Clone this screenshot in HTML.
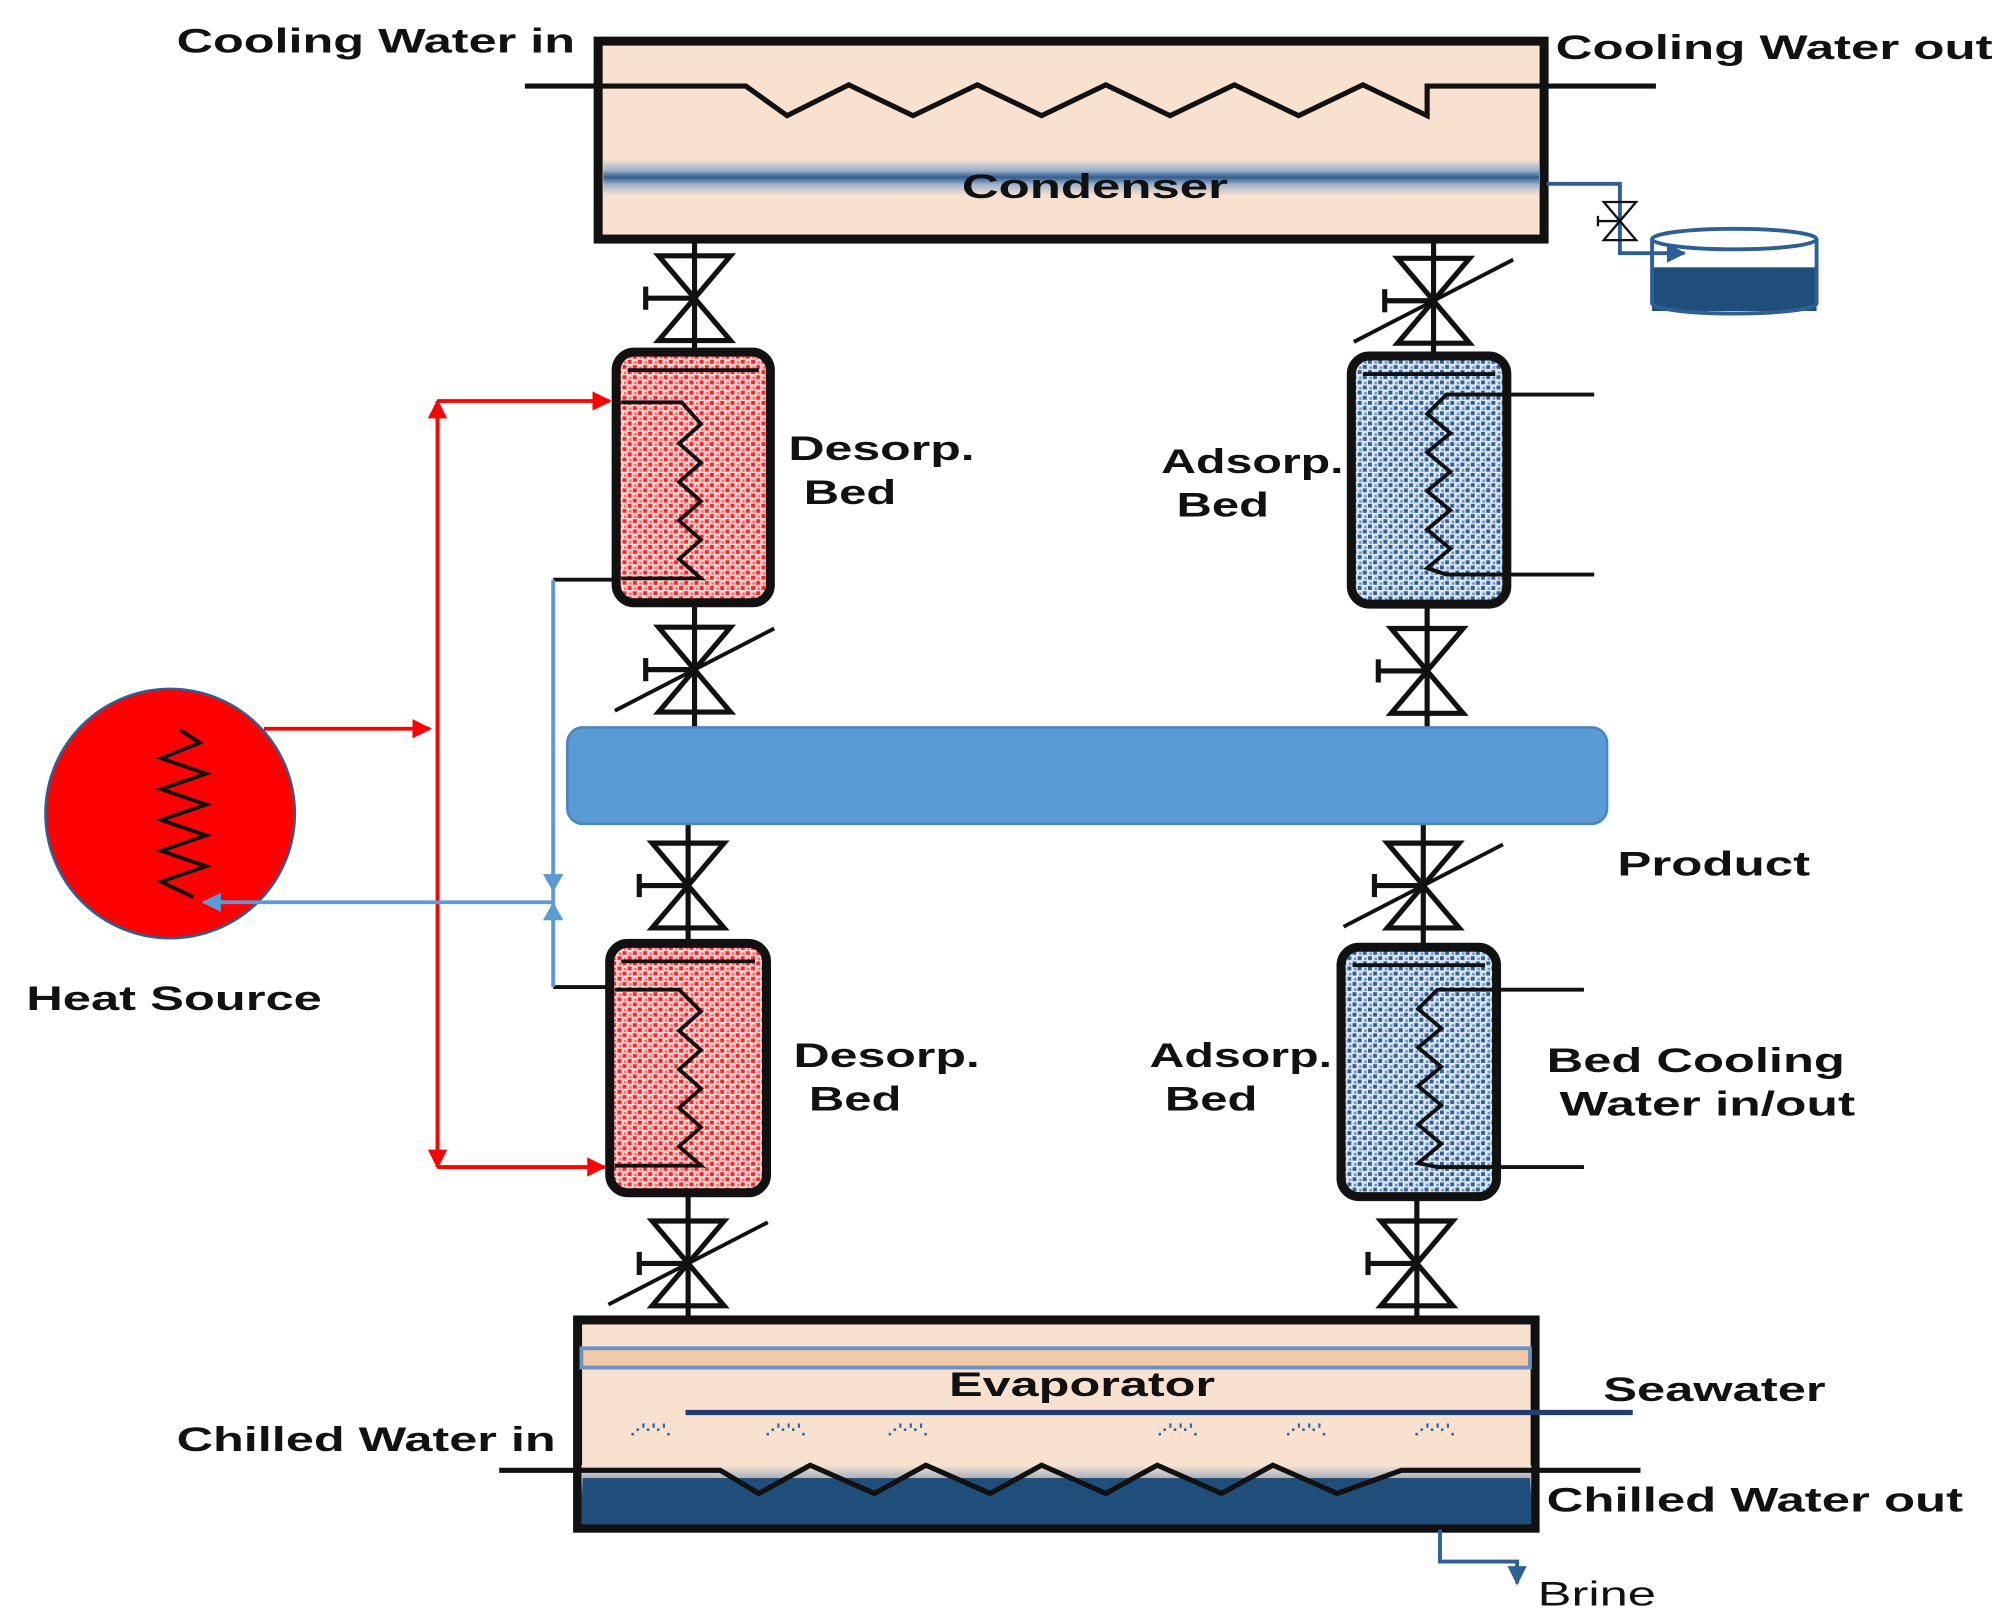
<!DOCTYPE html>
<html><head><meta charset="utf-8"><style>
html,body{margin:0;padding:0;background:#fff}
svg{display:block}
text{font-family:"Liberation Sans",Arial,sans-serif;font-weight:bold;fill:#111}
</style></head><body>
<svg width="2006" height="1622" viewBox="0 0 1560 1262" xmlns="http://www.w3.org/2000/svg">
<defs>
<pattern id="red" width="8" height="8" patternUnits="userSpaceOnUse">
<rect width="8" height="8" fill="#ffd8d8"/>
<rect x="0" y="0" width="3" height="3" fill="#f22"/><rect x="4" y="4" width="3" height="3" fill="#f22"/>
<rect x="5" y="1" width="2" height="2" fill="#f66"/><rect x="1" y="5" width="2" height="2" fill="#f66"/>
</pattern>
<pattern id="blue" width="8" height="8" patternUnits="userSpaceOnUse">
<rect width="8" height="8" fill="#dfe8f2"/>
<rect x="0" y="0" width="3" height="3" fill="#2c5f96"/><rect x="4" y="4" width="3" height="3" fill="#2c5f96"/>
<rect x="5" y="1" width="2" height="2" fill="#6a92bf"/><rect x="1" y="5" width="2" height="2" fill="#6a92bf"/>
</pattern>
<linearGradient id="band" x1="0" y1="0" x2="0" y2="1">
<stop offset="0" stop-color="#f9e1d0"/><stop offset="0.3" stop-color="#9fb3cc"/><stop offset="0.5" stop-color="#2f5d8f"/><stop offset="0.7" stop-color="#9fb3cc"/><stop offset="1" stop-color="#f9e1d0"/>
</linearGradient>
<linearGradient id="water" x1="0" y1="0" x2="0" y2="1">
<stop offset="0" stop-color="#f9e1d0"/><stop offset="0.3" stop-color="#8aa0b8"/><stop offset="0.5" stop-color="#1f4e7a"/><stop offset="1" stop-color="#1f4e7a"/>
</linearGradient>
<marker id="ar" viewBox="0 0 10 10" refX="9" refY="5" markerWidth="5" markerHeight="5" orient="auto-start-reverse"><path d="M0,0L10,5L0,10z" fill="#f00"/></marker>
<marker id="ab" viewBox="0 0 10 10" refX="9" refY="5" markerWidth="5" markerHeight="5" orient="auto-start-reverse"><path d="M0,0L10,5L0,10z" fill="#5b9bd5"/></marker>
<marker id="ad" viewBox="0 0 10 10" refX="9" refY="5" markerWidth="5" markerHeight="5" orient="auto"><path d="M0,0L10,5L0,10z" fill="#2c5f96"/></marker>
<g id="valve" stroke="#111" stroke-width="4" fill="none">
<path d="M-28,-33L28,-33L-28,33L28,33Z"/>
<line x1="0" y1="0" x2="-38" y2="0"/><line x1="-38" y1="-9" x2="-38" y2="9"/>
</g>
<g id="valveS"><use href="#valve"/><line x1="-62" y1="32" x2="62" y2="-32" stroke="#111" stroke-width="3"/></g>
</defs>

<!-- Condenser -->
<rect x="465" y="32" width="736" height="154" fill="#f9e1d0" stroke="#111" stroke-width="7"/>
<rect x="469" y="124" width="728" height="28" fill="url(#band)"/>
<text x="748" y="154" font-size="27" textLength="207" lengthAdjust="spacingAndGlyphs">Condenser</text>
<polyline points="408,67 580,67 612,90 660,66 710,90 760,66 810,90 860,66 910,90 960,66 1010,90 1060,66 1110,90 1110,67 1288,67" fill="none" stroke="#111" stroke-width="4"/>
<text x="137" y="41" font-size="27" textLength="310" lengthAdjust="spacingAndGlyphs">Cooling Water in</text>
<text x="1210" y="46" font-size="27" textLength="340" lengthAdjust="spacingAndGlyphs">Cooling Water out</text>
<!-- outlet -->
<polyline points="1203,143 1260,143 1260,197 1310,197" fill="none" stroke="#2c5f96" stroke-width="3" marker-end="url(#ad)"/>
<g transform="translate(1260,172) scale(0.45)"><use href="#valve"/></g>
<rect x="1285" y="208" width="128" height="34" fill="#1f4e7a"/>
<path d="M1285,186 L1285,236 A64,8 0 0 0 1413,236 L1413,186" fill="none" stroke="#2c5f96" stroke-width="3"/>
<ellipse cx="1349" cy="186" rx="64" ry="8" fill="#fff" stroke="#2c5f96" stroke-width="3"/>

<!-- vertical lines -->
<g stroke="#111" stroke-width="4">
<line x1="540" y1="188" x2="540" y2="275"/><line x1="1115" y1="188" x2="1115" y2="278"/>
<line x1="540" y1="468" x2="540" y2="568"/><line x1="1110" y1="468" x2="1110" y2="568"/>
<line x1="535" y1="640" x2="535" y2="735"/><line x1="1107" y1="640" x2="1107" y2="738"/>
<line x1="535" y1="928" x2="535" y2="1027"/><line x1="1102" y1="930" x2="1102" y2="1027"/>
</g>
<g transform="translate(540,232)"><use href="#valve"/></g>
<g transform="translate(1115,234)"><use href="#valveS"/></g>
<g transform="translate(540,521)"><use href="#valveS"/></g>
<g transform="translate(1110,522)"><use href="#valve"/></g>
<g transform="translate(535,689)"><use href="#valve"/></g>
<g transform="translate(1107,689)"><use href="#valveS"/></g>
<g transform="translate(535,983)"><use href="#valveS"/></g>
<g transform="translate(1102,983)"><use href="#valve"/></g>

<!-- Beds -->
<g stroke="#111" stroke-width="7">
<rect x="479" y="274" width="120" height="195" rx="14" fill="url(#red)"/>
<rect x="1051" y="277" width="121" height="193" rx="14" fill="url(#blue)"/>
<rect x="474" y="734" width="122" height="194" rx="14" fill="url(#red)"/>
<rect x="1043" y="737" width="121" height="194" rx="14" fill="url(#blue)"/>
</g>
<g stroke="#111" stroke-width="3" fill="none">
<line x1="488" y1="288" x2="590" y2="288"/><line x1="1060" y1="291" x2="1163" y2="291"/>
<line x1="483" y1="748" x2="587" y2="748"/><line x1="1052" y1="751" x2="1155" y2="751"/>
<polyline points="483,313 530,313 545,330 528,345 545,360 528,375 545,390 528,405 545,420 528,435 545,450 483,450"/>
<polyline points="1173,307 1125,307 1110,322 1128,337 1110,352 1128,367 1110,382 1128,397 1110,412 1128,427 1110,442 1125,447 1240,447"/>
<line x1="1173" y1="307" x2="1240" y2="307"/>
<polyline points="478,770 528,770 545,787 528,802 545,817 528,832 545,847 528,862 545,877 528,892 545,907 478,907"/>
<polyline points="1164,770 1118,770 1103,785 1121,800 1103,815 1121,830 1103,845 1121,860 1103,875 1121,890 1103,905 1118,908 1232,908"/>
<line x1="1164" y1="770" x2="1232" y2="770"/>
</g>
<line x1="430" y1="451" x2="480" y2="451" stroke="#111" stroke-width="3"/>
<line x1="430" y1="768" x2="476" y2="768" stroke="#111" stroke-width="3"/>

<text x="613" y="358" font-size="27" textLength="145" lengthAdjust="spacingAndGlyphs">Desorp.</text>
<text x="625" y="392" font-size="27" textLength="72" lengthAdjust="spacingAndGlyphs">Bed</text>
<text x="903" y="368" font-size="27" textLength="142" lengthAdjust="spacingAndGlyphs">Adsorp.</text>
<text x="915" y="402" font-size="27" textLength="72" lengthAdjust="spacingAndGlyphs">Bed</text>
<text x="617" y="830" font-size="27" textLength="145" lengthAdjust="spacingAndGlyphs">Desorp.</text>
<text x="629" y="864" font-size="27" textLength="72" lengthAdjust="spacingAndGlyphs">Bed</text>
<text x="894" y="830" font-size="27" textLength="142" lengthAdjust="spacingAndGlyphs">Adsorp.</text>
<text x="906" y="864" font-size="27" textLength="72" lengthAdjust="spacingAndGlyphs">Bed</text>
<text x="1203" y="834" font-size="27" textLength="232" lengthAdjust="spacingAndGlyphs">Bed Cooling</text>
<text x="1213" y="868" font-size="27" textLength="230" lengthAdjust="spacingAndGlyphs">Water in/out</text>

<!-- Product -->
<rect x="441" y="566" width="809" height="75" rx="12" fill="#5b9bd5" stroke="#4a86c0" stroke-width="2"/>
<text x="1258" y="681" font-size="27" textLength="150" lengthAdjust="spacingAndGlyphs">Product</text>

<!-- Heat source -->
<circle cx="132" cy="633" r="97" fill="#f00" stroke="#2c5f96" stroke-width="2"/>
<polyline points="140,568 155,578 125,590 160,602 125,614 160,626 125,638 160,650 125,662 160,674 125,686 150,698" fill="none" stroke="#111" stroke-width="3"/>
<text x="20" y="786" font-size="27" textLength="230" lengthAdjust="spacingAndGlyphs">Heat Source</text>
<g stroke="#f00" stroke-width="3" fill="none">
<line x1="340" y1="312" x2="340" y2="908" marker-start="url(#ar)" marker-end="url(#ar)"/>
<line x1="340" y1="312" x2="474" y2="312" marker-end="url(#ar)"/>
<line x1="340" y1="908" x2="470" y2="908" marker-end="url(#ar)"/>
<line x1="205" y1="567" x2="334" y2="567" marker-end="url(#ar)"/>
</g>
<g stroke="#5b9bd5" stroke-width="3" fill="none">
<line x1="430" y1="451" x2="430" y2="768"/>
<line x1="430" y1="702" x2="158" y2="702" marker-end="url(#ab)"/>
<path d="M422,680 L438,680 L430,694 Z M422,716 L438,716 L430,702 Z" fill="#5b9bd5" stroke="none"/>
</g>

<!-- Evaporator -->
<rect x="449" y="1027" width="745" height="162" fill="#f9e1d0" stroke="#111" stroke-width="7"/>
<rect x="452" y="1140" width="739" height="46" fill="url(#water)"/>
<rect x="453" y="1150" width="737" height="34" fill="#1f4e7a"/>
<rect x="452" y="1049" width="738" height="15" fill="#f4c9a8" stroke="#6a92bf" stroke-width="3"/>
<text x="738" y="1086" font-size="27" textLength="207" lengthAdjust="spacingAndGlyphs">Evaporator</text>
<line x1="533" y1="1099" x2="1270" y2="1099" stroke="#1f3f6e" stroke-width="4"/>
<g font-size="14">
<text x="490" y="1117" style="fill:#2c6aa0">.·'·'·'.</text><text x="595" y="1117" style="fill:#2c6aa0">.·'·'·'.</text><text x="690" y="1117" style="fill:#2c6aa0">.·'·'·'.</text>
<text x="900" y="1117" style="fill:#2c6aa0">.·'·'·'.</text><text x="1000" y="1117" style="fill:#2c6aa0">.·'·'·'.</text><text x="1100" y="1117" style="fill:#2c6aa0">.·'·'·'.</text>
</g>
<polyline points="388,1144 560,1144 590,1162 630,1140 680,1162 720,1140 770,1162 810,1140 860,1162 900,1140 950,1162 990,1140 1040,1162 1090,1144 1276,1144" fill="none" stroke="#111" stroke-width="4"/>
<text x="137" y="1129" font-size="27" textLength="295" lengthAdjust="spacingAndGlyphs">Chilled Water in</text>
<text x="1247" y="1090" font-size="27" textLength="173" lengthAdjust="spacingAndGlyphs">Seawater</text>
<text x="1203" y="1176" font-size="27" textLength="324" lengthAdjust="spacingAndGlyphs">Chilled Water out</text>
<polyline points="1120,1190 1120,1215 1180,1215 1180,1232" fill="none" stroke="#2c5f96" stroke-width="3" marker-end="url(#ad)"/>
<text x="1196" y="1249" font-size="27" style="font-weight:normal" textLength="92" lengthAdjust="spacingAndGlyphs">Brine</text>
</svg>
</body></html>
